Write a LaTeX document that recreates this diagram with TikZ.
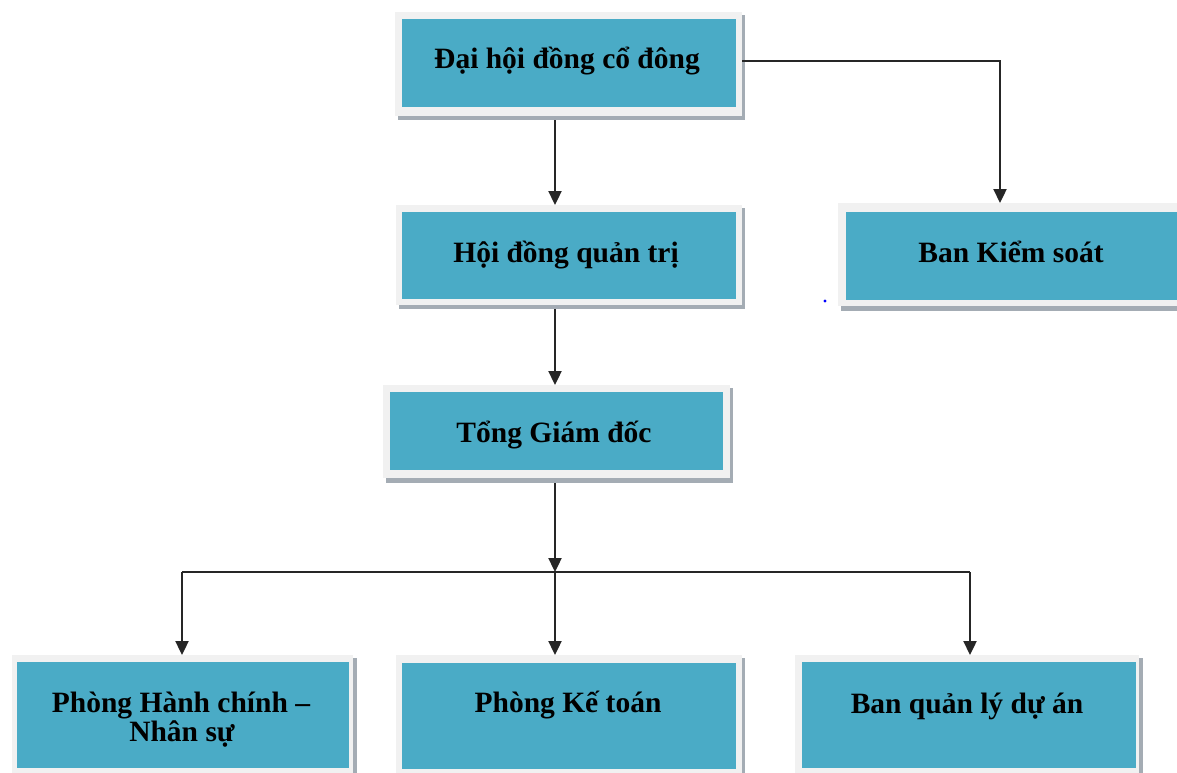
\documentclass[tikz,border=0pt]{standalone}
\usepackage{fontspec}
\setmainfont{Liberation Serif}
\usetikzlibrary{arrows.meta}
\definecolor{tealfill}{HTML}{4AABC6}
\definecolor{frameC}{HTML}{F1F1F1}
\definecolor{shadowC}{HTML}{A4ACB4}
\tikzset{
  rectnode/.style={rectangle, inner sep=0pt, outer sep=0pt, draw=none},
  shadowbox/.style={rectnode, fill=shadowC},
  framebox/.style={rectnode, fill=frameC},
  innerbox/.style={rectnode, fill=tealfill},
  boxtext/.style={font=\bfseries\fontsize{29.5}{34}\selectfont, text=black, inner sep=0pt, anchor=base},
  conn/.style={line width=2.3pt, draw=black!85},
  arr/.style={conn, -{Triangle[length=14pt,width=13pt]}},
}
\newcommand\rbox[6]{\node[#1, minimum width={#5pt-#3pt}, minimum height={#6pt-#4pt}] (#2) at ({(#3+#5)/2},{(#4+#6)/2}) {};}
\begin{document}
\begin{tikzpicture}[x=1pt,y=-1pt]
\useasboundingbox (0,0) rectangle (1177,772);
\clip (0,0) rectangle (1177,772);
% Dai hoi dong co dong
\rbox{shadowbox}{s1}{398}{15}{745}{120}
\rbox{framebox}{b1}{395}{12}{742}{116}
\rbox{innerbox}{i1}{402}{19}{736}{107}
\node[boxtext] (t1) at (567,68) {Đại hội đồng cổ đông};
% Hoi dong quan tri
\rbox{shadowbox}{s2}{399}{208}{745}{309}
\rbox{framebox}{b2}{396}{205}{742}{305}
\rbox{innerbox}{i2}{402}{212}{736}{299}
\node[boxtext] (t2) at (566,262) {Hội đồng quản trị};
% Ban Kiem soat
\rbox{shadowbox}{s3}{841}{206}{1190}{311}
\rbox{framebox}{b3}{838}{203}{1190}{306}
\rbox{innerbox}{i3}{846}{212}{1190}{300}
\node[boxtext] (t3) at (1011,262) {Ban Kiểm soát};
% Tong Giam doc
\rbox{shadowbox}{s4}{386}{388}{733}{483}
\rbox{framebox}{b4}{383}{385}{730}{478}
\rbox{innerbox}{i4}{390}{392}{723}{470}
\node[boxtext] (t4) at (554,442) {Tổng Giám đốc};
% Phong Hanh chinh - Nhan su
\rbox{shadowbox}{s5}{15}{658}{357}{780}
\rbox{framebox}{b5}{12}{655}{353}{775}
\rbox{innerbox}{i5}{17}{662}{349}{768}
\node[boxtext] (t5a) at (181,712) {Phòng Hành chính –};
\node[boxtext] (t5b) at (182,741) {Nhân sự};
% Phong Ke toan
\rbox{shadowbox}{s6}{399}{658}{745}{780}
\rbox{framebox}{b6}{396}{655}{742}{775}
\rbox{innerbox}{i6}{402}{663}{736}{769}
\node[boxtext] (t6) at (568,712) {Phòng Kế toán};
% Ban quan ly du an
\rbox{shadowbox}{s7}{798}{658}{1143}{780}
\rbox{framebox}{b7}{795}{655}{1139}{775}
\rbox{innerbox}{i7}{802}{662}{1136}{768}
\node[boxtext] (t7) at (967,713) {Ban quản lý dự án};
% connectors
\coordinate (spine) at (555,0);
\coordinate (kscol) at (1000,0);
\coordinate (junc) at (555,572);
\coordinate (jl) at (182,572);
\coordinate (jr) at (970,572);
\coordinate (e1) at (742,61);
\draw[arr] (s1.south -| spine) -- (b2.north -| spine);
\draw[arr] (e1) -| (b3.north -| kscol);
\draw[arr] (s2.south -| spine) -- (b4.north -| spine);
\draw[arr] (s4.south -| spine) -- (junc);
\draw[conn] (jl) -- (jr);
\draw[arr] (jl) -- (b5.north -| jl);
\draw[arr] (junc) -- (b6.north -| junc);
\draw[arr] (jr) -- (b7.north -| jr);
% stray dot
\fill[blue] (825,301) circle (1.6);
\end{tikzpicture}
\end{document}
